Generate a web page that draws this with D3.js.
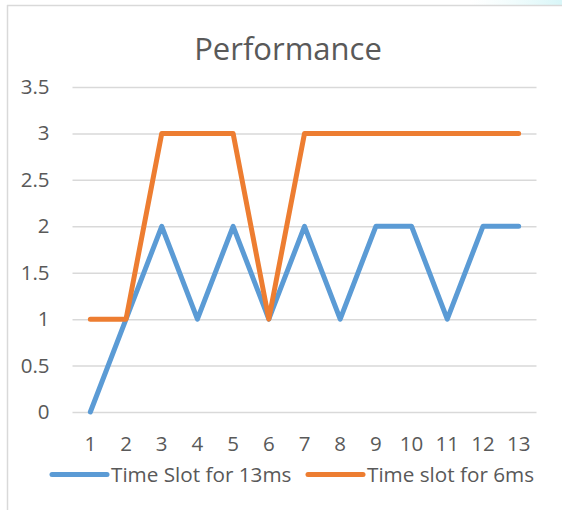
<!DOCTYPE html>
<html>
<head>
<meta charset="utf-8">
<script src="https://cdn.jsdelivr.net/npm/d3@7/dist/d3.min.js"></script>
<style>
  html, body { margin: 0; padding: 0; background: #fff; }
  svg { display: block; }
</style>
</head>
<body>
<svg id="chart" width="562" height="510"></svg>
<script>
// Chart data
const slots = ["1","2","3","4","5","6","7","8","9","10","11","12","13"];
const slot13ms = [0,1,2,1,2,1,2,1,2,2,1,2,2];
const slot6ms = [1,1,3,3,3,1,3,3,3,3,3,3,3];
const yTicks = [0,0.5,1,1.5,2,2.5,3,3.5];
const seriesNames = ["Time Slot for 13ms", "Time slot for 6ms"];
const seriesColors = ["#5B9BD5", "#ED7D31"];

const font = "'Open Sans', sans-serif";
const textColor = "#595959";

const svg = d3.select("#chart");
const W = 562, H = 510;

// faint tint above the frame, top-right
const grad = svg.append("defs").append("linearGradient")
  .attr("id", "tint").attr("x1", "0").attr("x2", "1");
grad.append("stop").attr("offset", "0").attr("stop-color", "#e8fbfb").attr("stop-opacity", 0);
grad.append("stop").attr("offset", "1").attr("stop-color", "#d8f6f8").attr("stop-opacity", 1);
svg.append("rect").attr("x", 470).attr("y", 0).attr("width", 92).attr("height", 5)
  .attr("fill", "url(#tint)");

// chart frame (left and top edges visible)
svg.append("line").attr("x1", 7.5).attr("x2", 7.5).attr("y1", 5).attr("y2", H)
  .attr("stroke", "#d9d9d9").attr("stroke-width", 1.5);
svg.append("line").attr("x1", 7).attr("x2", W).attr("y1", 5.5).attr("y2", 5.5)
  .attr("stroke", "#d9d9d9").attr("stroke-width", 1.5);

const plot = { left: 72.5, right: 536.5, top: 87, bottom: 412 };

const x = d3.scaleBand().domain(slots).range([plot.left, plot.right]).padding(0);
const y = d3.scaleLinear().domain([0, 3.5]).range([plot.bottom, plot.top]);
const cx = d => x(d) + x.bandwidth() / 2;

// title
svg.append("text")
  .attr("x", 288).attr("y", 59.5)
  .attr("text-anchor", "middle")
  .attr("font-family", font).attr("font-size", 31)
  .attr("fill", textColor)
  .text("Performance");

// gridlines + y labels
const yAxis = d3.axisLeft(y).tickValues(yTicks).tickSize(-(plot.right - plot.left))
  .tickPadding(23).tickFormat(d3.format("~g"));
const gy = svg.append("g").attr("transform", `translate(${plot.left},0)`).call(yAxis);
gy.select(".domain").remove();
gy.selectAll(".tick line").attr("stroke", "#d9d9d9").attr("stroke-width", 1.5);
gy.selectAll(".tick text").attr("font-family", font).attr("font-size", 20.5)
  .attr("fill", textColor);

// x labels
const xAxis = d3.axisBottom(x).tickSize(0).tickPadding(0);
const gx = svg.append("g").attr("transform", `translate(0,${plot.bottom})`).call(xAxis);
gx.select(".domain").remove();
gx.selectAll(".tick text").attr("font-family", font).attr("font-size", 20.5)
  .attr("fill", textColor).attr("dy", null).attr("y", 38.5);

// series lines
const line = d3.line().x((d, i) => cx(slots[i])).y(d => y(d));
[slot13ms, slot6ms].forEach((vals, k) => {
  svg.append("path").datum(vals)
    .attr("d", line)
    .attr("fill", "none")
    .attr("stroke", seriesColors[k])
    .attr("stroke-width", 5)
    .attr("stroke-linejoin", "round")
    .attr("stroke-linecap", "round");
});

// legend
const legendItems = [
  { x1: 52, x2: 107, tx: 111 },
  { x1: 308, x2: 363, tx: 367 }
];
const ly = 474.5;
legendItems.forEach((it, k) => {
  svg.append("line").attr("x1", it.x1).attr("x2", it.x2).attr("y1", ly).attr("y2", ly)
    .attr("stroke", seriesColors[k]).attr("stroke-width", 5).attr("stroke-linecap", "round");
  svg.append("text").attr("x", it.tx).attr("y", 481.5)
    .attr("font-family", font).attr("font-size", 20.7).attr("fill", textColor)
    .text(seriesNames[k]);
});
</script>
</body>
</html>
